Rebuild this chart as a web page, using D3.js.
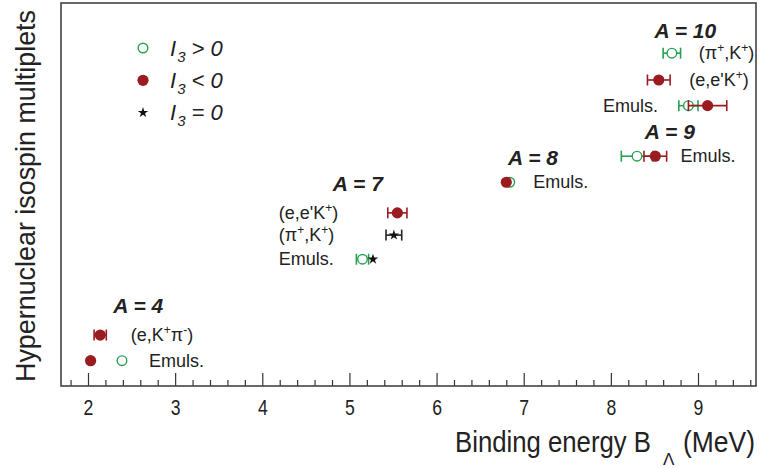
<!DOCTYPE html>
<html><head><meta charset="utf-8">
<script src="https://cdn.jsdelivr.net/npm/d3@7/dist/d3.min.js"></script>
<style>
html,body{margin:0;padding:0;background:#fff;}
text{font-family:"Liberation Sans",Arial,sans-serif;fill:#222;}
</style></head>
<body><svg id="c" width="761" height="468"></svg>
<script>
// ---- data ----
const xTicks = [2, 3, 4, 5, 6, 7, 8, 9];
// rows (vertical level of each measurement line)
const rowLevels = [0.66, 1.33, 3.31, 3.94, 4.52, 5.32, 6.00, 7.32, 7.99, 8.69];
// points: row index, binding energy (MeV), error (MeV), isospin type
const pointRow  = [0,    0,    1,    2,    2,    3,    4,    5,    5,    6,    6,    7,    7,    8,    9];
const pointBL   = [2.39, 2.03, 2.14, 5.15, 5.27, 5.51, 5.55, 6.84, 6.80, 8.30, 8.51, 8.89, 9.11, 8.55, 8.70];
const pointErr  = [0,    0,    0.07, 0.07, 0,    0.09, 0.11, 0,    0,    0.18, 0.13, 0.11, 0.22, 0.13, 0.10];
const pointType = ["pos","neg","neg","pos","zero","zero","neg","pos","neg","pos","neg","pos","neg","neg","pos"];
// group labels
const groupNames = ["A = 4", "A = 7", "A = 8", "A = 9", "A = 10"];
const groupX     = [2.29, 4.81, 6.82, 8.39, 8.50];
const groupLevel = [1.91, 5.09, 5.77, 6.45, 9.09];
// reaction labels: parts [text, superscript?]
const labelParts = [
  [["Emuls.",0]],
  [["(e,K",0],["+",1],["π",0],["-",1],[")",0]],
  [["Emuls.",0]],
  [["(π",0],["+",1],[",K",0],["+",1],[")",0]],
  [["(e,e'K",0],["+",1],[")",0]],
  [["Emuls.",0]],
  [["Emuls.",0]],
  [["Emuls.",0]],
  [["(e,e'K",0],["+",1],[")",0]],
  [["(π",0],["+",1],[",K",0],["+",1],[")",0]]
];
const labelRow = [0, 1, 2, 3, 4, 5, 6, 7, 8, 9];
const labelX   = [2.70, 2.49, 4.19, 4.19, 4.19, 7.11, 8.80, 7.91, 8.90, 9.01];
const legendTypes = ["pos", "neg", "zero"];
const legendOps   = [">", "<", "="];

// ---- layout ----
const L = 61, R = 756, T = 3, B = 386;
const x = d3.scaleLinear().domain([2, 9]).range([88, 698]);
const y = d3.scaleLinear().domain([0, 10]).range([B, B - 383]);
const GREEN = "#27a052", RED = "#9a1b20";
const svg = d3.select("#c");

// axis ticks (pointing inward)
const minorTicks = d3.range(1.8, 9.61, 0.2).map(v => +v.toFixed(1)).filter(v => !xTicks.includes(v));
const gMinor = svg.append("g").attr("transform", `translate(0,${B})`)
  .call(d3.axisBottom(x).tickValues(minorTicks).tickSize(-6).tickFormat(""));
const gMajor = svg.append("g").attr("transform", `translate(0,${B})`)
  .call(d3.axisBottom(x).tickValues(xTicks).tickSize(-13).tickPadding(13).tickFormat(d3.format("d")));
[gMinor, gMajor].forEach(g => { g.select(".domain").remove(); g.selectAll("line").attr("stroke", "#333").attr("stroke-width", 1.2); });
gMajor.selectAll("text").attr("font-size", 22).attr("fill", "#222").attr("font-family", "Liberation Sans, Arial, sans-serif")
  .attr("transform", "scale(0.8,1)");

// frame
svg.append("rect").attr("x", L).attr("y", T).attr("width", R - L).attr("height", B - T)
  .attr("fill", "none").attr("stroke", "#444").attr("stroke-width", 1.6);

// axis titles
svg.append("text").attr("x", 455).attr("y", 452).attr("font-size", 29)
  .attr("textLength", 196).attr("lengthAdjust", "spacingAndGlyphs").text("Binding energy B");
svg.append("text").attr("x", 663).attr("y", 465).attr("font-size", 17).text("Λ");
svg.append("text").attr("x", 683).attr("y", 452).attr("font-size", 29)
  .attr("textLength", 72).attr("lengthAdjust", "spacingAndGlyphs").text("(MeV)");
svg.append("text").attr("transform", "translate(35,196) rotate(-90)").attr("text-anchor", "middle")
  .attr("font-size", 28).attr("textLength", 372).attr("lengthAdjust", "spacingAndGlyphs")
  .text("Hypernuclear isospin multiplets");

// markers
function drawMarker(g, type, cx, cy) {
  if (type === "pos") g.append("circle").attr("cx", cx).attr("cy", cy).attr("r", 4.8)
    .attr("fill", "#fff").attr("stroke", GREEN).attr("stroke-width", 1.4);
  else if (type === "neg") g.append("circle").attr("cx", cx).attr("cy", cy).attr("r", 5.6).attr("fill", RED);
  else g.append("path").attr("d", d3.symbol(d3.symbolStar, 34)()).attr("transform", `translate(${cx},${cy})`).attr("fill", "#111");
}
const colorOf = t => t === "pos" ? GREEN : t === "neg" ? RED : "#222";
const gp = svg.append("g");
pointBL.forEach((v, i) => {
  const cy = y(rowLevels[pointRow[i]]), e = pointErr[i], c = colorOf(pointType[i]);
  if (e > 0) {
    const x0 = x(v - e), x1 = x(v + e);
    gp.append("line").attr("x1", x0).attr("x2", x1).attr("y1", cy).attr("y2", cy).attr("stroke", c).attr("stroke-width", 1.6);
    [x0, x1].forEach(xx => gp.append("line").attr("x1", xx).attr("x2", xx).attr("y1", cy - 5.5).attr("y2", cy + 5.5)
      .attr("stroke", c).attr("stroke-width", 1.6));
  }
  drawMarker(gp, pointType[i], x(v), cy);
});

// group labels
groupNames.forEach((n, i) => {
  svg.append("text").attr("x", x(groupX[i])).attr("y", y(groupLevel[i])).attr("font-size", 21)
    .attr("font-weight", "bold").attr("font-style", "italic").text(n);
});

// reaction labels
labelParts.forEach((parts, i) => {
  const t = svg.append("text").attr("x", x(labelX[i])).attr("y", y(rowLevels[labelRow[i]]) + 6).attr("font-size", 18);
  let shift = 0;
  parts.forEach(([s, sup]) => {
    const want = sup ? -7 : 0;
    const ts = t.append("tspan").attr("dy", want - shift).text(s);
    if (sup) ts.attr("font-size", 12);
    shift = want;
  });
});

// legend
legendTypes.forEach((tp, i) => {
  const cy = 48 + i * 32.3;
  drawMarker(svg, tp, 143, cy);
  const t = svg.append("text").attr("x", 170).attr("y", cy + 7.5).attr("font-size", 22).attr("font-style", "italic");
  t.append("tspan").text("I");
  t.append("tspan").attr("font-size", 15).attr("dy", 6).attr("dx", 1).text("3");
  t.append("tspan").attr("dy", -6).text(" " + legendOps[i] + " 0");
});
</script></body></html>
